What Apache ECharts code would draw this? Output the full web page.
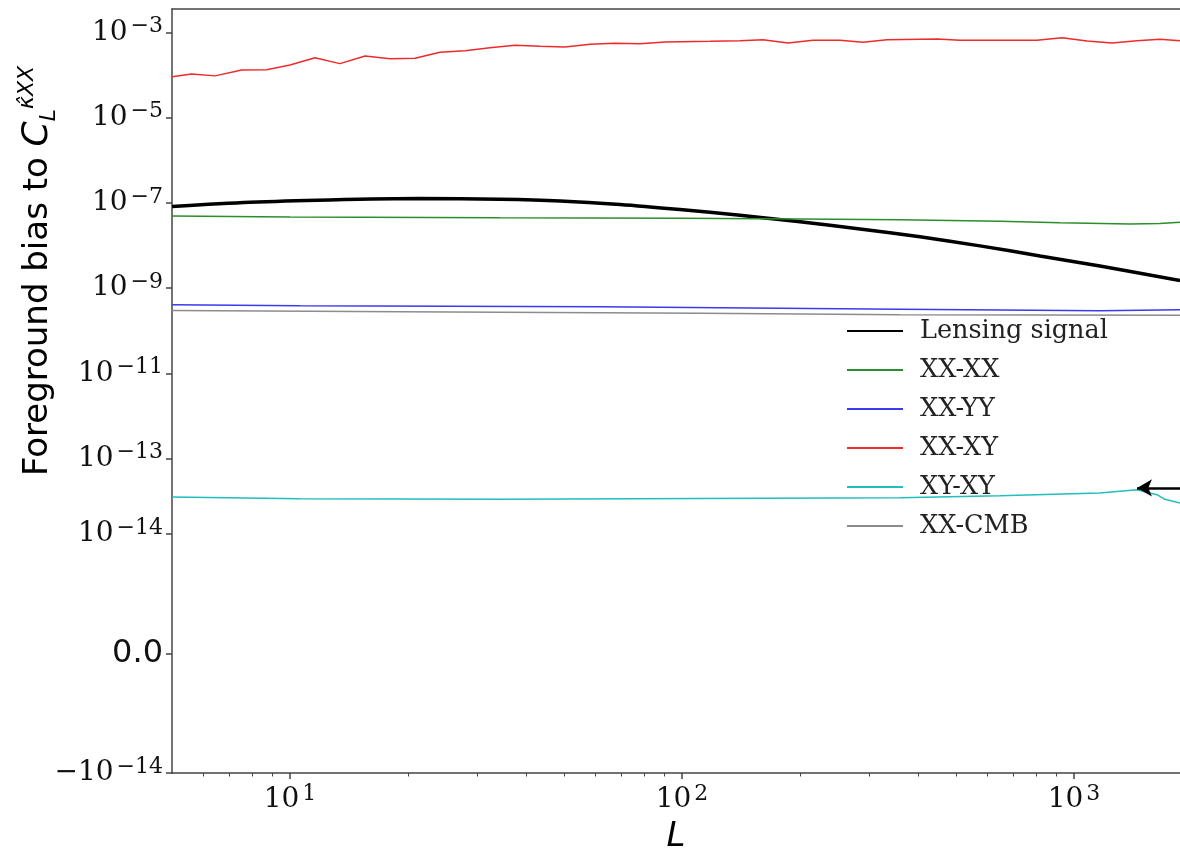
<!DOCTYPE html>
<html><head><meta charset="utf-8">
<script src="https://cdn.jsdelivr.net/npm/echarts@6/dist/echarts.min.js"></script>
<style>html,body{margin:0;padding:0;background:#fff}#c{width:1180px;height:856px}</style>
</head><body><div id="c"></div>
<script>
// ---- axis ticks ----
const xTickValues = [10, 100, 1000];
const xMinorTicks = [6,7,8,9,20,30,40,50,60,70,80,90,200,300,400,500,600,700,800,900];
const yTickValues = [-1e-14, 0, 1e-14, 1e-13, 1e-11, 1e-9, 1e-7, 1e-5, 1e-3];
const yTickLabels = [['−10','−14'],['0.0',''],['10','−14'],['10','−13'],['10','−11'],['10','−9'],['10','−7'],['10','−5'],['10','−3']];
const xMin = 5, xMax = 1864;

// ---- data ----
const lensL = [5, 7.9, 12.6, 21.5, 34.3, 48.9, 69.5, 98.8, 140.6, 200, 284.5, 404.7, 575.6, 818.8, 1164.6, 1864];
const lensV = [8.2e-8, 1.03e-7, 1.17e-7, 1.26e-7, 1.21e-7, 1.11e-7, 9.2e-8, 7.0e-8, 5.1e-8, 3.6e-8, 2.45e-8, 1.6e-8, 9.8e-9, 5.7e-9, 3.3e-9, 1.5e-9];

const xxxxL = [5, 10, 34.3, 98.8, 200, 359.7, 647, 920, 1390, 1656, 1864];
const xxxxV = [4.95e-8, 4.69e-8, 4.45e-8, 4.33e-8, 4.21e-8, 3.99e-8, 3.68e-8, 3.40e-8, 3.21e-8, 3.30e-8, 3.50e-8];

const xxyyL = [5, 10.6, 61.8, 359.7, 1164.6, 1864];
const xxyyV = [4.06e-10, 3.85e-10, 3.65e-10, 3.19e-10, 2.94e-10, 3.10e-10];

const xxxyL = [5, 5.61, 6.44, 7.53, 8.72, 10, 11.58, 13.41, 15.54, 17.99, 20.84, 24.14, 27.95, 32.37, 37.5, 43.43, 50.29, 58.25, 67.46, 78.13, 90.5, 117.9, 140.6, 160.9, 186.4, 215.9, 253, 289.5, 333.4, 447.3, 512, 621.5, 804.6, 931.9, 1079.4, 1250, 1447.6, 1657.5, 1864];
const xxxyV = [9.1e-5, 1.05e-4, 9.5e-5, 1.31e-4, 1.33e-4, 1.71e-4, 2.54e-4, 1.84e-4, 2.78e-4, 2.40e-4, 2.46e-4, 3.40e-4, 3.71e-4, 4.36e-4, 4.96e-4, 4.70e-4, 4.53e-4, 5.24e-4, 5.52e-4, 5.41e-4, 5.93e-4, 6.15e-4, 6.35e-4, 6.71e-4, 5.61e-4, 6.50e-4, 6.50e-4, 5.83e-4, 6.71e-4, 6.97e-4, 6.50e-4, 6.50e-4, 6.50e-4, 7.47e-4, 6.25e-4, 5.61e-4, 6.35e-4, 6.86e-4, 6.35e-4];

const xyxyL = [5, 10.6, 34.3, 111.2, 359.7, 647, 1164.6, 1448, 1628, 1706, 1864];
const xyxyV = [3.11e-14, 2.95e-14, 2.9e-14, 2.98e-14, 3.05e-14, 3.24e-14, 3.51e-14, 3.89e-14, 3.34e-14, 2.9e-14, 2.59e-14];

const xxcmbL = [5, 19.1, 111.2, 359.7, 1864];
const xxcmbV = [2.99e-10, 2.79e-10, 2.57e-10, 2.37e-10, 2.31e-10];

// arrow annotation (pointing at the XY-XY bump)
const arrowFromL = 1864, arrowToL = 1448, arrowV = 4.1e-14;

// ---- symmetric-log style mapping for the y axis ----
const LIN = 1e-14, F_LIN = 2.80, F_DEC1 = 1.77;
function symY(v){
  const s = Math.sign(v), a = Math.abs(v);
  if (a <= LIN) return F_LIN * v / LIN;
  if (a <= 1e-13) return s * (F_LIN + F_DEC1 * Math.log10(a / LIN));
  return s * (F_LIN + F_DEC1 + Math.log10(a / 1e-13));
}
const yTickPos = yTickValues.map(symY);
const yMin = symY(-1e-14), yMax = 15.116;

const serif = 'DejaVu Serif', sans = 'DejaVu Sans';
const spine = {show:true, onZero:false, lineStyle:{color:'#444', width:1.5}};
const richNum = {
  b:{fontFamily:serif, fontSize:28, color:'#111', lineHeight:34},
  s:{fontFamily:serif, fontSize:22, color:'#111', verticalAlign:'top', lineHeight:23, padding:[0,0,0,3]},
  z:{fontFamily:sans, fontSize:32, color:'#111', lineHeight:34}
};

function mk(L, V){ return L.map((l,i)=>[l, symY(V[i])]); }
const defs = [
  {name:'Lensing signal', L:lensL, V:lensV, color:'#000000', width:3.5, smooth:0.3},
  {name:'XX-XX', L:xxxxL, V:xxxxV, color:'#2a8f2a', width:1.5, smooth:false},
  {name:'XX-YY', L:xxyyL, V:xxyyV, color:'#3a3aee', width:1.5, smooth:false},
  {name:'XX-XY', L:xxxyL, V:xxxyV, color:'#ee2a2a', width:1.5, smooth:false},
  {name:'XY-XY', L:xyxyL, V:xyxyV, color:'#22bdbd', width:1.5, smooth:false},
  {name:'XX-CMB', L:xxcmbL, V:xxcmbV, color:'#8c8c8c', width:1.5, smooth:false}
];
const series = defs.map(d => ({
  name:d.name, type:'line', xAxisIndex:0, yAxisIndex:0,
  data: mk(d.L, d.V), symbol:'none', smooth:d.smooth,
  lineStyle:{color:d.color, width:d.width}, itemStyle:{color:d.color},
  silent:true
}));
series[4].markLine = {
  silent:true, symbol:['none','arrow'], symbolSize:[13,15], label:{show:false},
  lineStyle:{color:'#000', width:2.5, type:'solid'},
  data:[[{coord:[arrowFromL, symY(arrowV)]},{coord:[arrowToL, symY(arrowV)]}]]
};

const option = {
  animation:false,
  backgroundColor:'#fff',
  grid:{left:172, right:0, top:9, bottom:83, containLabel:false, outerBoundsMode:'none'},
  xAxis:[
    {type:'log', logBase:10, min:xMin, max:xMax, position:'bottom',
     axisLine:spine,
     axisTick:{show:true, customValues:xTickValues, length:6, lineStyle:{color:'#444', width:1.5}},
     axisLabel:{show:true, customValues:xTickValues, margin:10, rich:richNum,
       formatter:v => '{b|10}{s|' + Math.round(Math.log10(v)) + '}'},
     splitLine:{show:false},
     name:'L', nameLocation:'middle', nameGap:47,
     nameTextStyle:{fontFamily:sans, fontStyle:'italic', fontSize:34, color:'#000'}},
    {type:'log', logBase:10, min:xMin, max:xMax, position:'bottom',
     axisLine:{show:false, onZero:false},
     axisTick:{show:true, customValues:xMinorTicks, length:3.5, lineStyle:{color:'#444', width:1}},
     axisLabel:{show:false}, splitLine:{show:false}},
    {type:'log', logBase:10, min:xMin, max:xMax, position:'top',
     axisLine:spine, axisTick:{show:false}, axisLabel:{show:false}, splitLine:{show:false}}
  ],
  yAxis:[{
    type:'value', min:yMin, max:yMax, position:'left',
    axisLine:spine,
    axisTick:{show:true, customValues:yTickPos, length:6, lineStyle:{color:'#444', width:1.5}},
    axisLabel:{show:true, customValues:yTickPos, margin:9, rich:richNum,
      formatter:function(v){
        let bi = 0, bd = Infinity;
        yTickPos.forEach((p,i)=>{ const d = Math.abs(p - v); if (d < bd){bd = d; bi = i;} });
        const t = yTickLabels[bi];
        if (t[1] === '') return '{z|' + t[0] + '}';
        return '{b|' + t[0] + '}{s|' + t[1] + '}';
      }},
    splitLine:{show:false}
  }],
  legend:{
    orient:'vertical', left:846, top:318, padding:0, itemWidth:56, itemHeight:26, itemGap:13,
    itemStyle:{opacity:0},
    textStyle:{fontFamily:serif, fontSize:25.5, color:'#222', lineHeight:26, padding:[0,0,0,12]},
    data:defs.map(d=>d.name), selectedMode:false
  },
  graphic:[{
    type:'text', x:38, y:271, rotation:Math.PI/2,
    style:{
      text:'Foreground bias to {c|C}{sub|L}{sup|κ̂XX}',
      font:'34px "DejaVu Sans"', fill:'#000', align:'center', verticalAlign:'middle',
      rich:{
        c:{fontFamily:sans, fontStyle:'italic', fontSize:36, fill:'#000', lineHeight:44},
        sub:{fontFamily:sans, fontStyle:'italic', fontSize:22, fill:'#000', verticalAlign:'bottom', lineHeight:44},
        sup:{fontFamily:sans, fontStyle:'italic', fontSize:22, fill:'#000', verticalAlign:'top', lineHeight:44}
      }
    }
  }],
  series: series
};
const chart = echarts.init(document.getElementById('c'));
chart.setOption(option);
</script>
</body></html>
